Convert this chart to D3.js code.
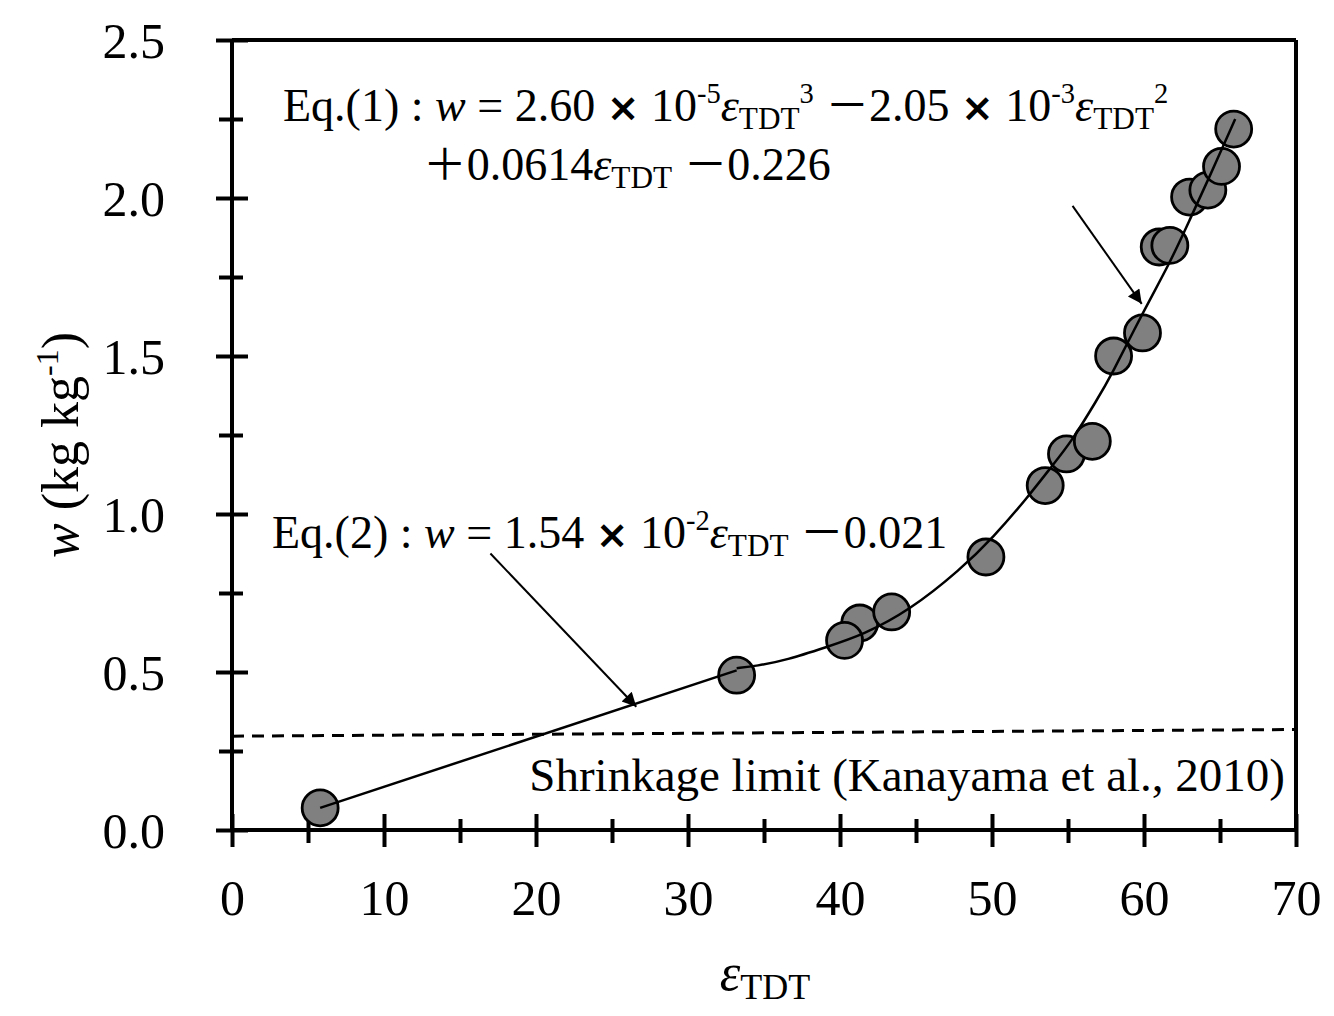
<!DOCTYPE html>
<html>
<head>
<meta charset="utf-8">
<script src="https://cdn.jsdelivr.net/npm/d3@7"></script>
<style>
  body { margin: 0; background: #fff; }
  svg { display: block; }
  text { font-family: "Liberation Serif", "Times New Roman", serif; fill: #000; }
</style>
</head>
<body>
<div id="chart"></div>
<script>
// measured points (eps_TDT, w), in the order they are stacked
let epsTDT = [5.8, 33.2, 41.3, 40.3, 43.4, 49.6, 54.9, 53.5, 56.6, 58.0, 59.9, 61.0, 61.7, 63.0, 64.2, 65.1, 65.9];
let wVals  = [0.07, 0.49, 0.655, 0.60, 0.69, 0.864, 1.19, 1.09, 1.23, 1.50, 1.573, 1.845, 1.85, 2.003, 2.025, 2.10, 2.218];

// Eq.(2) straight line
let lineX = [5.8, 33.2];
let lineY = [0.07, 0.505];

// Eq.(1) curve
let curveX = [33.2, 34.5, 36.5, 39.1, 41.5, 44.6, 47.9, 50.1, 52.3, 53.9, 55.3, 56.9, 57.8, 59.9, 61.7, 63.0, 64.3, 66.0];
let curveY = [0.512, 0.519, 0.538, 0.579, 0.617, 0.696, 0.823, 0.927, 1.05, 1.149, 1.234, 1.361, 1.434, 1.636, 1.794, 1.930, 2.066, 2.25];

// shrinkage limit dashed line
let shrinkX = [0, 70];
let shrinkY = [0.297, 0.318];

let xMajor = [0, 10, 20, 30, 40, 50, 60, 70];
let xMinor = [5, 15, 25, 35, 45, 55, 65];
let yMajor = [0, 0.5, 1.0, 1.5, 2.0, 2.5];
let yMinor = [0.25, 0.75, 1.25, 1.75, 2.25];

var svgWidth = 1334, svgHeight = 1016;
var margin = { top: 40, right: 38, bottom: 186, left: 232 };
var chartWidth = svgWidth - margin.left - margin.right;
var chartHeight = svgHeight - margin.top - margin.bottom;

var svg = d3.select("#chart").append("svg")
  .attr("width", svgWidth)
  .attr("height", svgHeight);

var g = svg.append("g")
  .attr("transform", `translate(${margin.left}, ${margin.top})`);

var x = d3.scaleLinear().domain([0, 70]).range([0, chartWidth]);
var y = d3.scaleLinear().domain([0, 2.5]).range([chartHeight, 0]);

// frame top and right
g.append("line").attr("x1", 0).attr("x2", chartWidth).attr("y1", 0).attr("y2", 0)
  .attr("stroke", "#000").attr("stroke-width", 4);
g.append("line").attr("x1", chartWidth).attr("x2", chartWidth).attr("y1", 0).attr("y2", chartHeight)
  .attr("stroke", "#000").attr("stroke-width", 4);

// axes, ticks cross the axis line
function crossTicks(sel, a, b, vertical) {
  sel.selectAll(".tick line")
    .attr("stroke-width", 4)
    .attr(vertical ? "x1" : "y1", a)
    .attr(vertical ? "x2" : "y2", b);
  sel.select(".domain").remove();
}

var yMinorG = g.append("g").call(d3.axisLeft(y).tickValues(yMinor).tickFormat(""));
crossTicks(yMinorG, -13, 11, true);
var yMajorG = g.append("g").call(d3.axisLeft(y).tickValues(yMajor).tickFormat(d3.format(".1f")).tickPadding(0));
crossTicks(yMajorG, -16, 16, true);
yMajorG.selectAll("text").attr("x", -67).attr("dy", "0.35em").style("font-size", "50px");

var xMinorG = g.append("g").attr("transform", `translate(0, ${chartHeight})`)
  .call(d3.axisBottom(x).tickValues(xMinor).tickFormat(""));
crossTicks(xMinorG, -11, 13, false);
var xMajorG = g.append("g").attr("transform", `translate(0, ${chartHeight})`)
  .call(d3.axisBottom(x).tickValues(xMajor).tickFormat(d3.format("d")));
crossTicks(xMajorG, -16, 17, false);
xMajorG.selectAll("text").attr("y", 85).attr("dy", 0).style("font-size", "50px");

g.append("line").attr("x1", 0).attr("x2", 0).attr("y1", 0).attr("y2", chartHeight)
  .attr("stroke", "#000").attr("stroke-width", 4);
g.append("line").attr("x1", 0).attr("x2", chartWidth).attr("y1", chartHeight).attr("y2", chartHeight)
  .attr("stroke", "#000").attr("stroke-width", 4);

// shrinkage limit
var drawLine = d3.line().x(d => x(d[0])).y(d => y(d[1]));
g.append("path")
  .attr("d", drawLine(d3.zip(shrinkX, shrinkY)))
  .attr("fill", "none").attr("stroke", "#000").attr("stroke-width", 3)
  .attr("stroke-dasharray", "12,8");

// points
g.selectAll("circle.pt")
  .data(d3.zip(epsTDT, wVals))
  .enter().append("circle")
  .attr("class", "pt")
  .attr("cx", d => x(d[0]))
  .attr("cy", d => y(d[1]))
  .attr("r", 18)
  .attr("fill", "#808080")
  .attr("stroke", "#000")
  .attr("stroke-width", 2.8);

// fitted lines
g.append("path")
  .attr("d", drawLine(d3.zip(lineX, lineY)))
  .attr("fill", "none").attr("stroke", "#000").attr("stroke-width", 2.5);

var drawCurve = d3.line().x(d => x(d[0])).y(d => y(d[1])).curve(d3.curveBasis);
g.append("path")
  .attr("d", drawCurve(d3.zip(curveX, curveY)))
  .attr("fill", "none").attr("stroke", "#000").attr("stroke-width", 2.5);

// arrows
svg.append("defs").append("marker")
  .attr("id", "arrow")
  .attr("viewBox", "0 0 10 10")
  .attr("refX", 10).attr("refY", 5)
  .attr("markerWidth", 10).attr("markerHeight", 7)
  .attr("markerUnits", "strokeWidth")
  .attr("orient", "auto")
  .append("path").attr("d", "M0,0 L10,5 L0,10 z").attr("fill", "#000");

let arrows = [
  [[55.3, 1.975], [59.85, 1.665]],
  [[17.0, 0.875], [26.6, 0.39]]
];
arrows.forEach(a => {
  g.append("line")
    .attr("x1", x(a[0][0])).attr("y1", y(a[0][1]))
    .attr("x2", x(a[1][0])).attr("y2", y(a[1][1]))
    .attr("stroke", "#000").attr("stroke-width", 2)
    .attr("marker-end", "url(#arrow)");
});

// rich text helper: [string, kind] kind: n, i, sub, sup, x (times sign), w (wide sign)
function rich(xp, yp, size, parts) {
  var t = svg.append("text").attr("x", xp).attr("y", yp).style("font-size", size + "px");
  var cur = 0;
  parts.forEach(p => {
    var kind = p[1] || "n";
    var shift = 0, fs = size, style = "normal";
    if (kind === "sub") { shift = size * 0.18; fs = size * 0.68; }
    if (kind === "sup") { shift = -size * 0.4; fs = size * 0.62; }
    if (kind === "i") { style = "italic"; }
    if (kind === "x") { fs = size * 0.85; }
    if (kind === "w") { fs = size * 0.95; }
    var ts = t.append("tspan")
      .attr("dy", shift - cur)
      .style("font-size", fs + "px")
      .style("font-style", style)
      .text(p[0]);
    if (kind === "x") ts.style("font-family", "DejaVu Sans").style("font-weight", "bold");
    if (kind === "w") ts.style("font-family", "Noto Sans CJK JP");
    cur = shift;
  });
  return t;
}

rich(283, 121, 46, [
  ["Eq.(1)"], [" : "], ["w", "i"], [" = 2.60 "], ["×", "x"], [" 10"], ["-5", "sup"],
  ["ε", "i"], ["TDT", "sub"], ["3", "sup"], [" "], ["－", "w"], ["2.05 "], ["×", "x"], [" 10"], ["-3", "sup"],
  ["ε", "i"], ["TDT", "sub"], ["2", "sup"]
]);
rich(423, 180, 46, [
  ["＋", "w"], ["0.0614"], ["ε", "i"], ["TDT", "sub"], ["  "], ["－", "w"], ["0.226"]
]);
rich(272, 548, 46, [
  ["Eq.(2)"], [" : "], ["w", "i"], [" = 1.54 "], ["×", "x"], [" 10"], ["-2", "sup"],
  ["ε", "i"], ["TDT", "sub"], [" "], ["－", "w"], ["0.021"]
]);

svg.append("text").attr("x", 1285).attr("y", 791)
  .attr("text-anchor", "end")
  .style("font-size", "47px")
  .text("Shrinkage limit (Kanayama et al., 2010)");

// axis titles
var xt = svg.append("text").attr("x", 765).attr("y", 990).attr("text-anchor", "middle").style("font-size", "52px");
xt.append("tspan").style("font-style", "italic").text("ε");
xt.append("tspan").attr("dy", 9).style("font-size", "36px").text("TDT");

var yt = svg.append("text").attr("transform", "translate(78, 445) rotate(-90)")
  .attr("text-anchor", "middle").style("font-size", "52px");
yt.append("tspan").style("font-style", "italic").text("w");
yt.append("tspan").text(" (kg kg");
yt.append("tspan").attr("dy", -20).style("font-size", "32px").text("-1");
yt.append("tspan").attr("dy", 20).text(")");
</script>
</body>
</html>
